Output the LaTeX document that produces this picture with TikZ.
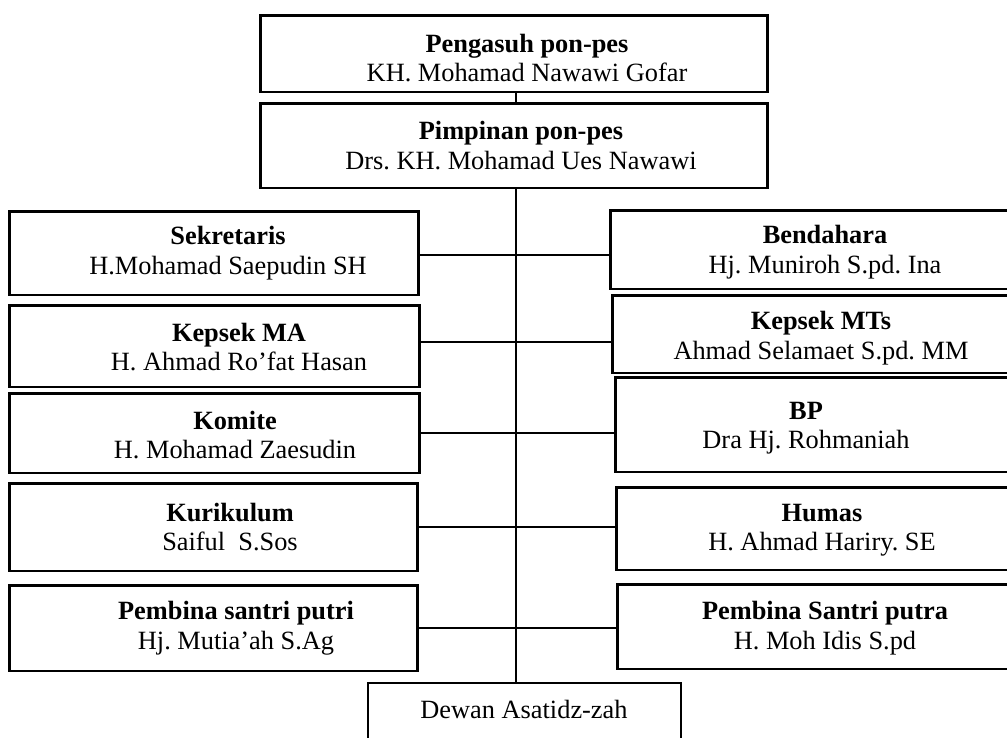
\documentclass[tikz,border=0pt]{standalone}
\usepackage{fontspec}
\setmainfont{Liberation Serif}
\frenchspacing

\tikzset{
  box/.style={draw, rectangle, line width=1.7pt, inner sep=0pt},
  thinbox/.style={draw, rectangle, line width=1.1pt, inner sep=0pt},
  txt/.style={align=center, font=\fontsize{15}{16.8}\selectfont},
  link/.style={line width=0.6pt}
}

\begin{document}
\begin{tikzpicture}[x=0.02cm, y=-0.02cm]
\useasboundingbox (0,0) rectangle (1007,737);
\clip (0,0) rectangle (1007,737);

\node [box, minimum width=10.16cm, minimum height=1.54cm] (peng) at (514, 53.5) {};
\node [txt] (pengt) at (527, 58) {\textbf{Pengasuh pon-pes}\\KH. Mohamad Nawawi Gofar};

\node [box, minimum width=10.16cm, minimum height=1.70cm] (pimp) at (514, 145.5) {};
\node [txt] (pimpt) at (521, 145.5) {\textbf{Pimpinan pon-pes}\\Drs. KH. Mohamad Ues Nawawi};

% left column
\node [box, minimum width=8.2cm, minimum height=1.68cm] (sek) at (214, 253) {};
\node [txt] (sekt) at (228, 253) {\textbf{Sekretaris}\\H.Mohamad Saepudin SH};

\node [box, minimum width=8.22cm, minimum height=1.64cm] (kma) at (214.5, 346) {};
\node [txt] (kmat) at (239, 347) {\textbf{Kepsek MA}\\H. Ahmad Ro’fat Hasan};

\node [box, minimum width=8.22cm, minimum height=1.60cm] (kom) at (214.5, 433) {};
\node [txt] (komt) at (235, 435) {\textbf{Komite}\\H. Mohamad Zaesudin};

\node [box, minimum width=8.18cm, minimum height=1.76cm] (kur) at (213.5, 527) {};
\node [txt] (kurt) at (230, 527) {\textbf{Kurikulum}\\Saiful\ \ S.Sos};

\node [box, minimum width=8.18cm, minimum height=1.72cm] (putri) at (213.5, 628) {};
\node [txt] (putrit) at (236, 628) {\textbf{Pembina santri putri}\\Hj. Mutia’ah S.Ag};

% right column
\node [box, minimum width=8.6cm, minimum height=1.58cm] (bend) at (825, 249.5) {};
\node [txt] (bendt) at (825, 252) {\textbf{Bendahara}\\Hj. Muniroh S.pd. Ina};

\node [box, minimum width=8.56cm, minimum height=1.56cm] (mts) at (826, 334) {};
\node [txt] (mtst) at (821, 338) {\textbf{Kepsek MTs}\\Ahmad Selamaet S.pd. MM};

\node [box, minimum width=8.5cm, minimum height=1.90cm] (bp) at (827.5, 424.5) {};
\node [txt] (bpt) at (806, 428) {\textbf{BP}\\Dra Hj. Rohmaniah};

\node [box, minimum width=8.48cm, minimum height=1.66cm] (humas) at (828, 528.5) {};
\node [txt] (humast) at (822, 530) {\textbf{Humas}\\H. Ahmad Hariry. SE};

\node [box, minimum width=8.46cm, minimum height=1.70cm] (putra) at (828.5, 626.5) {};
\node [txt] (putrat) at (825, 628) {\textbf{Pembina Santri putra}\\H. Moh Idis S.pd};

\node [thinbox, minimum width=6.26cm, minimum height=1.74cm] (dewan) at (524.5, 726.5) {};
\node [txt] (dewant) at (524, 709) {Dewan Asatidz-zah};

\coordinate (j1) at (516, 255);
\coordinate (j2) at (516, 342);
\coordinate (j3) at (516, 433);
\coordinate (j4) at (516, 527);
\coordinate (j5) at (516, 628);

\draw [link] (peng.south -| j1) -- (pimp.north -| j1);
\draw [link] (pimp.south -| j1) -- (dewan.north -| j1);

\draw [link] (j1 -| sek.east) -- (j1 -| bend.west);
\draw [link] (j2 -| kma.east) -- (j2 -| mts.west);
\draw [link] (j3 -| kom.east) -- (j3 -| bp.west);
\draw [link] (j4 -| kur.east) -- (j4 -| humas.west);
\draw [link] (j5 -| putri.east) -- (j5 -| putra.west);

\end{tikzpicture}
\end{document}
